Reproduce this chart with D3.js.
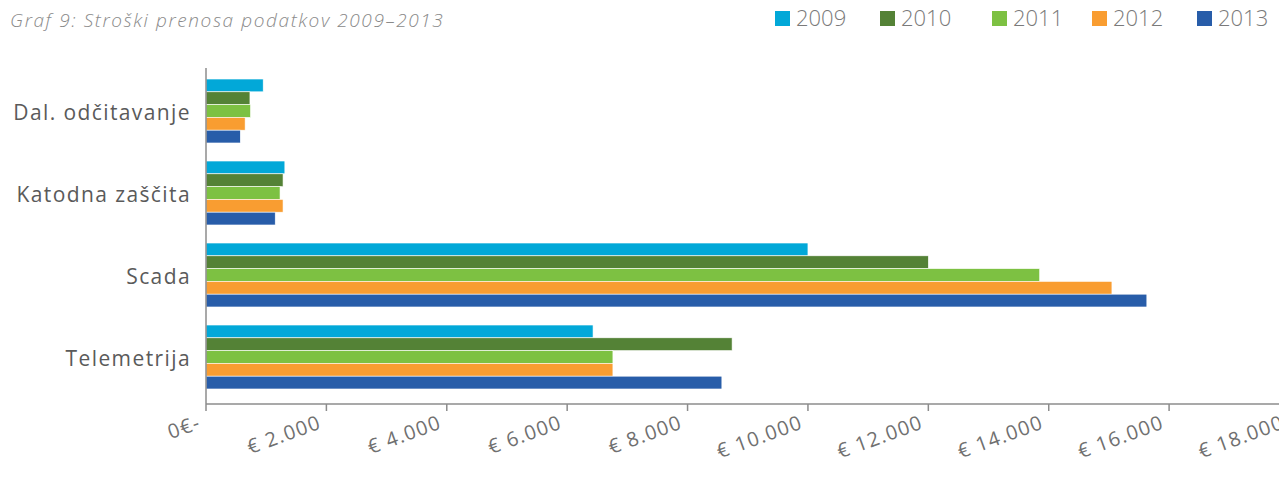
<!DOCTYPE html>
<html>
<head>
<meta charset="utf-8">
<script src="https://cdn.jsdelivr.net/npm/d3@7"></script>
<style>
  body { margin: 0; background: #fff; }
  text { font-family: "Open Sans", Lato, sans-serif; }
</style>
</head>
<body>
<div id="chart"></div>
<script>
// data
const categories = ['Dal. odčitavanje', 'Katodna zaščita', 'Scada', 'Telemetrija']
const years = ['2009', '2010', '2011', '2012', '2013']
const colors = ['#02a8d8', '#548236', '#7dc142', '#f99d31', '#285da9']
const values = {
    '2009': [950, 1310, 10000, 6430],
    '2010': [730, 1280, 12000, 8740],
    '2011': [740, 1230, 13850, 6760],
    '2012': [650, 1280, 15050, 6760],
    '2013': [570, 1150, 15630, 8570]
}
const ticks = [0, 2000, 4000, 6000, 8000, 10000, 12000, 14000, 16000, 18000]
const tickLabels = ['0€-', '€ 2.000', '€ 4.000', '€ 6.000', '€ 8.000', '€ 10.000', '€ 12.000', '€ 14.000', '€ 16.000', '€ 18.000']

const svgw = 1279, svgh = 478

let svg = d3.select('#chart').append('svg')
    .attr('width', svgw)
    .attr('height', svgh)

//====[ scales ]====//
let x = d3.scaleLinear().domain([0, 18000]).range([206, 1289.5])
let y = d3.scaleBand().domain(categories).range([70, 398]).paddingInner(0.22).paddingOuter(0.11)
let ySub = d3.scaleBand().domain(years).range([0, y.bandwidth()])
let axisY = 404

//====[ title ]====//
svg.append('text')
    .attr('x', 10).attr('y', 27)
    .attr('font-size', 19)
    .attr('font-style', 'italic')
    .attr('font-weight', 300)
    .attr('letter-spacing', 1.6)
    .attr('fill', '#8a8a8a')
    .text('Graf 9: Stroški prenosa podatkov 2009–2013')

//====[ legend ]====//
let legendX = [775, 880, 992, 1092, 1197]
let lg = svg.append('g').selectAll('g')
    .data(years)
    .enter()
    .append('g')
    .attr('transform', (d, i) => 'translate(' + legendX[i] + ',11)')
lg.append('rect')
    .attr('width', 15).attr('height', 15)
    .attr('fill', (d, i) => colors[i])
lg.append('text')
    .attr('x', 21).attr('y', 9)
    .attr('font-size', 22)
    .attr('font-weight', 300)
    .attr('fill', '#7a7a7a')
    .attr('dominant-baseline', 'middle')
    .text(d => d)

//====[ bars ]====//
let groups = svg.append('g').selectAll('g')
    .data(categories)
    .enter()
    .append('g')
    .attr('transform', d => 'translate(0,' + y(d) + ')')

groups.selectAll('rect')
    .data((c, ci) => years.map((yr, yi) => ({ yr: yr, yi: yi, v: values[yr][ci] })))
    .enter()
    .append('rect')
    .attr('x', x(0))
    .attr('y', d => ySub(d.yr))
    .attr('width', d => x(d.v) - x(0))
    .attr('height', ySub.bandwidth())
    .attr('fill', d => colors[d.yi])
    .attr('stroke', '#fff')
    .attr('stroke-width', 0.6)

//====[ category labels ]====//
svg.append('g').selectAll('text')
    .data(categories)
    .enter()
    .append('text')
    .attr('x', 191)
    .attr('y', d => y(d) + y.bandwidth() / 2 + 9)
    .attr('text-anchor', 'end')
    .attr('font-size', 21)
    .attr('letter-spacing', 1.4)
    .attr('fill', '#5a5a5a')
    .text(d => d)

//====[ axes ]====//
svg.append('line')
    .attr('x1', 206).attr('x2', 206)
    .attr('y1', 68).attr('y2', axisY)
    .attr('stroke', '#8c8c8c').attr('stroke-width', 1.5)

svg.append('line')
    .attr('x1', 206).attr('x2', svgw)
    .attr('y1', axisY).attr('y2', axisY)
    .attr('stroke', '#8c8c8c').attr('stroke-width', 1.5)

svg.append('g').selectAll('line')
    .data(ticks)
    .enter()
    .append('line')
    .attr('x1', d => x(d)).attr('x2', d => x(d))
    .attr('y1', axisY).attr('y2', axisY + 7)
    .attr('stroke', '#8c8c8c').attr('stroke-width', 1.5)

svg.append('g').selectAll('text')
    .data(ticks)
    .enter()
    .append('text')
    .attr('text-anchor', 'end')
    .attr('transform', d => 'translate(' + (x(d) - 4) + ',' + 428 + ') rotate(-20)')
    .attr('font-size', 20)
    .attr('letter-spacing', 1.3)
    .attr('fill', '#707070')
    .text((d, i) => tickLabels[i])
</script>
</body>
</html>
